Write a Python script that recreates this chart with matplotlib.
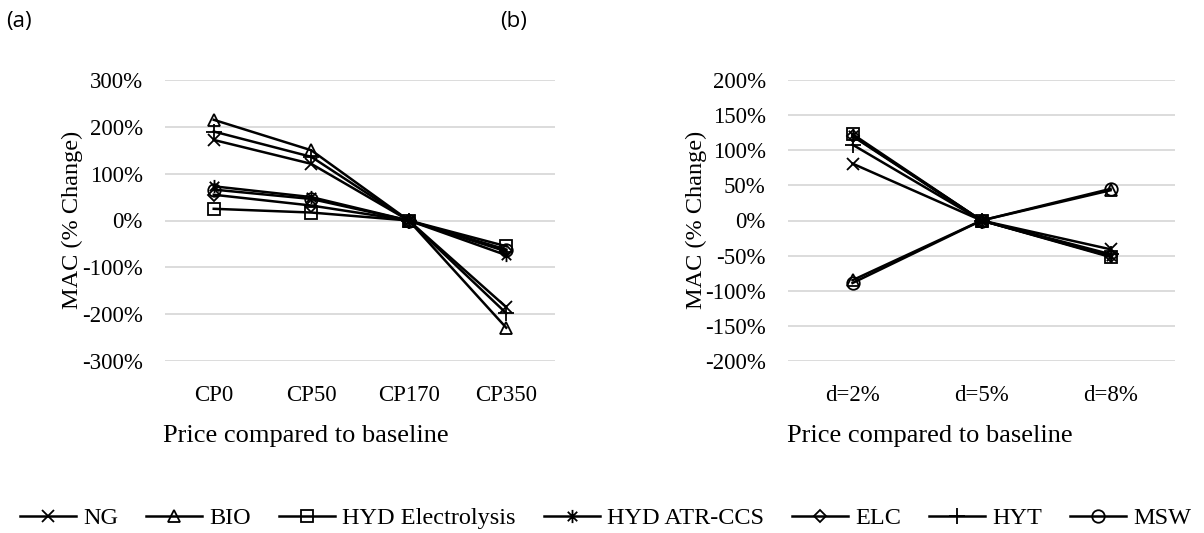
import numpy as np
import matplotlib.pyplot as plt
from matplotlib.path import Path

# panel (a): carbon price scenarios
cats_a = ["CP0", "CP50", "CP170", "CP350"]
ng_a = [172, 121, 0, -185]
bio_a = [215, 150, 0, -229]
hyd_el_a = [25, 17, 0, -55]
hyd_atr_a = [73, 50, 0, -74]
elc_a = [55, 32, 0, -66]
hyt_a = [190, 136, 0, -198]
msw_a = [66, 46, 0, -62]

# panel (b): discount rate scenarios
cats_b = ["d=2%", "d=5%", "d=8%"]
ng_b = [81, 0, -41]
bio_b = [-85, 0, 43]
hyd_el_b = [123, 0, -52]
hyd_atr_b = [121, 0, -51]
elc_b = [120, 0, -50]
hyt_b = [108, 0, -48]
msw_b = [-89, 0, 45]

names = ["NG", "BIO", "HYD Electrolysis", "HYD ATR-CCS", "ELC", "HYT", "MSW"]

# excel-style asterisk: x with a vertical bar
star = Path([(-1, -1), (1, 1), (-1, 1), (1, -1), (0, -1.4), (0, 1.4)],
            [Path.MOVETO, Path.LINETO] * 3)
markers = ["x", "^", "s", star, "D", "+", "o"]
msizes = [9, 9, 9, 9.5, 6.5, 11, 9]

W, H = 1204, 533
fig = plt.figure(figsize=(W / 100, H / 100), dpi=100)
serif = "Liberation Serif"
fs = 16.5


def px_axes(left, right, top, bottom):
    return fig.add_axes([left / W, (H - bottom) / H, (right - left) / W, (bottom - top) / H])


def draw(ax, cats, series, lim, step):
    x = np.arange(len(cats))
    for vals, name, m, ms in zip(series, names, markers, msizes):
        ax.plot(x, vals, color="black", lw=1.8, marker=m, ms=ms,
                mfc="none", mec="black", mew=1.3, label=name)
    ax.set_xlim(-0.5, len(cats) - 0.5)
    ax.set_ylim(-lim, lim)
    ticks = np.arange(-lim, lim + 1, step)
    ax.set_yticks(ticks)
    ax.set_yticklabels([f"{t}%" for t in ticks], fontfamily=serif, fontsize=fs)
    ax.set_xticks(x)
    ax.set_xticklabels(cats, fontfamily=serif, fontsize=fs)
    ax.tick_params(axis="x", length=0, pad=17)
    ax.tick_params(axis="y", length=0, pad=16)
    ax.grid(axis="y", color="#d9d9d9", lw=1.3)
    ax.set_axisbelow(True)
    for s in ax.spines.values():
        s.set_visible(False)


ax_a = px_axes(165, 555, 80, 361)
draw(ax_a, cats_a, [ng_a, bio_a, hyd_el_a, hyd_atr_a, elc_a, hyt_a, msw_a], 300, 100)
ax_b = px_axes(788, 1175, 80, 361)
draw(ax_b, cats_b, [ng_b, bio_b, hyd_el_b, hyd_atr_b, elc_b, hyt_b, msw_b], 200, 50)

for xc in (72, 696):
    fig.text(xc / W, 1 - 220 / H, "MAC (% Change)", rotation=90, ha="center", va="center",
             fontfamily=serif, fontsize=17.5)
for xl in (163, 787):
    fig.text(xl / W, 1 - 436 / H, "Price compared to baseline", ha="left", va="center",
             fontfamily=serif, fontsize=19)
fig.text(6 / W, 1 - 21 / H, "(a)", ha="left", va="center", fontfamily="Open Sans", fontsize=16)
fig.text(500 / W, 1 - 21 / H, "(b)", ha="left", va="center", fontfamily="Open Sans", fontsize=16)

handles, labels = ax_a.get_legend_handles_labels()
fig.legend(handles, labels, loc="center", bbox_to_anchor=(0.503, 1 - 518 / H), ncol=7,
           frameon=False, prop={"family": serif, "size": 17.5}, handlelength=2.3,
           handletextpad=0.3, columnspacing=1.15)

fig.savefig("out.png", dpi=100)
